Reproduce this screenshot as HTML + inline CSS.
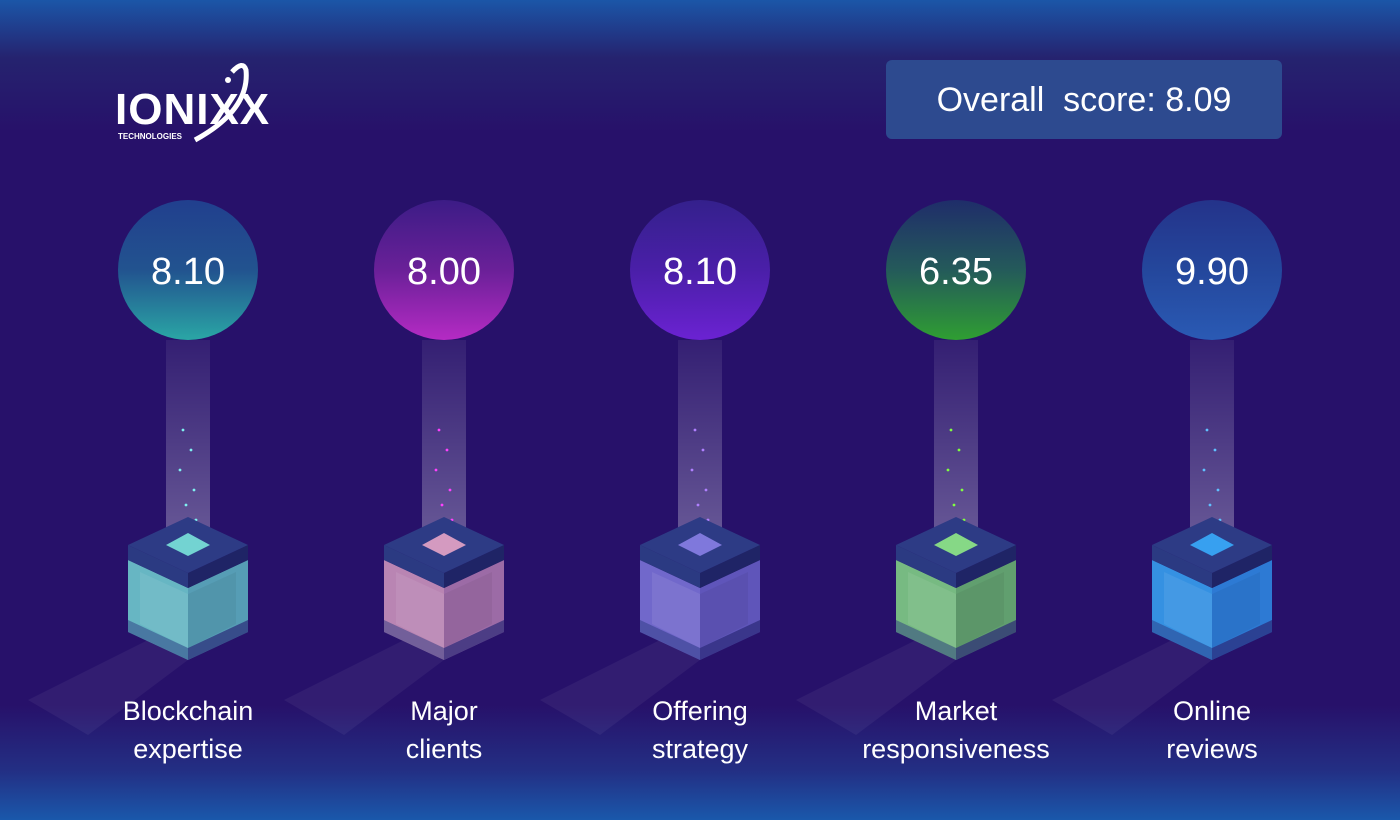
<!DOCTYPE html>
<html><head><style>
html,body{margin:0;padding:0;width:1400px;height:820px;overflow:hidden}
svg{display:block}
text{font-family:"Liberation Sans","DejaVu Sans",sans-serif;fill:#fff}
</style></head><body>
<svg width="1400" height="820" viewBox="0 0 1400 820" xmlns="http://www.w3.org/2000/svg">
<defs>
<linearGradient id="bg" x1="0" y1="0" x2="0" y2="1">
<stop offset="0" stop-color="#1b56a8"/><stop offset="0.07" stop-color="#25236f"/><stop offset="0.16" stop-color="#27116a"/>
<stop offset="0.86" stop-color="#27116a"/><stop offset="0.94" stop-color="#232f84"/><stop offset="1" stop-color="#1a58ab"/>
</linearGradient>
<linearGradient id="c1" x1="0" y1="0" x2="0" y2="1"><stop offset="0" stop-color="#213f8e"/><stop offset="0.5" stop-color="#22538f"/><stop offset="1" stop-color="#2aa6a5"/></linearGradient>
<linearGradient id="c2" x1="0" y1="0" x2="0" y2="1"><stop offset="0" stop-color="#3c1c86"/><stop offset="0.5" stop-color="#6a2098"/><stop offset="1" stop-color="#b52bc4"/></linearGradient>
<linearGradient id="c3" x1="0" y1="0" x2="0" y2="1"><stop offset="0" stop-color="#34208c"/><stop offset="0.5" stop-color="#4a1fa8"/><stop offset="1" stop-color="#6b22d2"/></linearGradient>
<linearGradient id="c4" x1="0" y1="0" x2="0" y2="1"><stop offset="0" stop-color="#1f2d6a"/><stop offset="0.5" stop-color="#245a5a"/><stop offset="1" stop-color="#2f9e32"/></linearGradient>
<linearGradient id="c5" x1="0" y1="0" x2="0" y2="1"><stop offset="0" stop-color="#24338a"/><stop offset="0.5" stop-color="#24479c"/><stop offset="1" stop-color="#2a5ab4"/></linearGradient>
<linearGradient id="beam" x1="0" y1="0" x2="0" y2="1"><stop offset="0" stop-color="#fff" stop-opacity="0.06"/><stop offset="1" stop-color="#fff" stop-opacity="0.3"/></linearGradient>
<g id="base">
<polygon points="-160,700 -40,640 0,660 -100,735" fill="#fff" opacity="0.05"/>
<rect x="-22" y="340" width="44" height="200" fill="url(#beam)"/>
</g>
<g id="lid">
<polygon points="-60,545 0,573 0,588 -60,560" fill="#2b3a82"/>
<polygon points="60,545 0,573 0,588 60,560" fill="#1f2466"/>
<polygon points="0,517 60,545 0,573 -60,545" fill="#2d3b85"/>
<polygon points="-60,620 0,648 0,660 -60,632" fill="#2b3a82" opacity="0.5"/>
<polygon points="60,620 0,648 0,660 60,632" fill="#2b2a78" opacity="0.7"/>
<polygon points="-48,572 0,594 0,648 -48,624" fill="#fff" opacity="0.08"/>
<polygon points="48,572 0,594 0,648 48,624" fill="#000" opacity="0.05"/>
</g>
</defs>
<rect width="1400" height="820" fill="url(#bg)"/>
<text x="115" y="124" font-size="44" font-weight="bold" letter-spacing="1">IONIXX</text>
<text x="118" y="139" font-size="8" font-weight="bold">TECHNOLOGIES</text>
<path d="M195 140 Q250 110 246 70 Q243 60 232 72" stroke="#fff" stroke-width="5" fill="none"/>
<circle cx="228" cy="80" r="3" fill="#fff"/>
<rect x="886" y="60" width="396" height="79" rx="6" fill="#2d4a8f"/>
<text x="1084" y="111" font-size="34" text-anchor="middle" xml:space="preserve">Overall  score: 8.09</text>

<g transform="translate(188,0)">
<use href="#base"/>
<circle cx="0" cy="270" r="70" fill="url(#c1)"/>
<text x="0" y="284" font-size="38" text-anchor="middle">8.10</text>
<g fill="#7ff0f0"><circle cx="-5" cy="430" r="1.4"/><circle cx="3" cy="450" r="1.4"/><circle cx="-8" cy="470" r="1.4"/><circle cx="6" cy="490" r="1.4"/><circle cx="-2" cy="505" r="1.4"/><circle cx="8" cy="520" r="1.4"/><circle cx="-6" cy="530" r="1.4"/></g>
<polygon points="-60,560 0,588 0,660 -60,632" fill="#73d3d2" opacity="0.85"/>
<polygon points="60,560 0,588 0,660 60,632" fill="#5fb6c2" opacity="0.85"/>
<use href="#lid"/>
<polygon points="0,533 22,545 0,556 -22,545" fill="#73d3d2"/>
</g>
<g transform="translate(444,0)">
<use href="#base"/>
<circle cx="0" cy="270" r="70" fill="url(#c2)"/>
<text x="0" y="284" font-size="38" text-anchor="middle">8.00</text>
<g fill="#ff40ff"><circle cx="-5" cy="430" r="1.4"/><circle cx="3" cy="450" r="1.4"/><circle cx="-8" cy="470" r="1.4"/><circle cx="6" cy="490" r="1.4"/><circle cx="-2" cy="505" r="1.4"/><circle cx="8" cy="520" r="1.4"/><circle cx="-6" cy="530" r="1.4"/></g>
<polygon points="-60,560 0,588 0,660 -60,632" fill="#d49ac0" opacity="0.85"/>
<polygon points="60,560 0,588 0,660 60,632" fill="#b27bb0" opacity="0.85"/>
<use href="#lid"/>
<polygon points="0,533 22,545 0,556 -22,545" fill="#d49ac0"/>
</g>
<g transform="translate(700,0)">
<use href="#base"/>
<circle cx="0" cy="270" r="70" fill="url(#c3)"/>
<text x="0" y="284" font-size="38" text-anchor="middle">8.10</text>
<g fill="#b080ff"><circle cx="-5" cy="430" r="1.4"/><circle cx="3" cy="450" r="1.4"/><circle cx="-8" cy="470" r="1.4"/><circle cx="6" cy="490" r="1.4"/><circle cx="-2" cy="505" r="1.4"/><circle cx="8" cy="520" r="1.4"/><circle cx="-6" cy="530" r="1.4"/></g>
<polygon points="-60,560 0,588 0,660 -60,632" fill="#7f78dc" opacity="0.85"/>
<polygon points="60,560 0,588 0,660 60,632" fill="#6a62c8" opacity="0.85"/>
<use href="#lid"/>
<polygon points="0,533 22,545 0,556 -22,545" fill="#7f78dc"/>
</g>
<g transform="translate(956,0)">
<use href="#base"/>
<circle cx="0" cy="270" r="70" fill="url(#c4)"/>
<text x="0" y="284" font-size="38" text-anchor="middle">6.35</text>
<g fill="#80ff40"><circle cx="-5" cy="430" r="1.4"/><circle cx="3" cy="450" r="1.4"/><circle cx="-8" cy="470" r="1.4"/><circle cx="6" cy="490" r="1.4"/><circle cx="-2" cy="505" r="1.4"/><circle cx="8" cy="520" r="1.4"/><circle cx="-6" cy="530" r="1.4"/></g>
<polygon points="-60,560 0,588 0,660 -60,632" fill="#86d886" opacity="0.85"/>
<polygon points="60,560 0,588 0,660 60,632" fill="#6cb870" opacity="0.85"/>
<use href="#lid"/>
<polygon points="0,533 22,545 0,556 -22,545" fill="#86d886"/>
</g>
<g transform="translate(1212,0)">
<use href="#base"/>
<circle cx="0" cy="270" r="70" fill="url(#c5)"/>
<text x="0" y="284" font-size="38" text-anchor="middle">9.90</text>
<g fill="#60c0ff"><circle cx="-5" cy="430" r="1.4"/><circle cx="3" cy="450" r="1.4"/><circle cx="-8" cy="470" r="1.4"/><circle cx="6" cy="490" r="1.4"/><circle cx="-2" cy="505" r="1.4"/><circle cx="8" cy="520" r="1.4"/><circle cx="-6" cy="530" r="1.4"/></g>
<polygon points="-60,560 0,588 0,660 -60,632" fill="#37a0f0" opacity="0.9"/>
<polygon points="60,560 0,588 0,660 60,632" fill="#2f86e0" opacity="0.9"/>
<use href="#lid"/>
<polygon points="0,533 22,545 0,556 -22,545" fill="#37a0f0"/>
</g>

<g font-size="27" text-anchor="middle">
<text x="188" y="720">Blockchain</text><text x="188" y="758">expertise</text>
<text x="444" y="720">Major</text><text x="444" y="758">clients</text>
<text x="700" y="720">Offering</text><text x="700" y="758">strategy</text>
<text x="956" y="720">Market</text><text x="956" y="758">responsiveness</text>
<text x="1212" y="720">Online</text><text x="1212" y="758">reviews</text>
</g>
</svg>
</body></html>
